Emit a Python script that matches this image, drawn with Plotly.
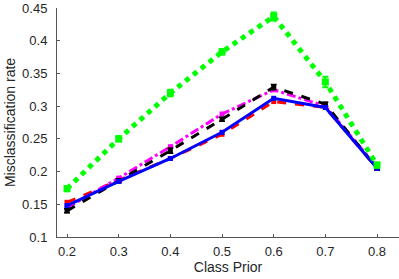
import plotly.graph_objects as go

x = [0.2, 0.3, 0.4, 0.5, 0.6, 0.7, 0.8]
red = [0.153, 0.186, 0.220, 0.257, 0.307, 0.298, 0.205]
magenta = [0.145, 0.190, 0.238, 0.288, 0.325, 0.300, 0.207]
black = [0.140, 0.186, 0.232, 0.280, 0.329, 0.303, 0.205]
blue = [0.148, 0.185, 0.220, 0.260, 0.312, 0.298, 0.205]
green = [0.174, 0.250, 0.320, 0.383, 0.437, 0.337, 0.210]
black_err = [0.003, 0.003, 0.004, 0.003, 0.004, 0.003, 0.003]
green_err = [0.004, 0.004, 0.005, 0.004, 0.006, 0.008, 0.004]
xticks = ["0.2", "0.3", "0.4", "0.5", "0.6", "0.7", "0.8"]
yvals = [0.1, 0.15, 0.2, 0.25, 0.3, 0.35, 0.4, 0.45]
yticks = ["0.1", "0.15", "0.2", "0.25", "0.3", "0.35", "0.4", "0.45"]

fig = go.Figure()
fig.add_trace(go.Scatter(x=x, y=red, mode="lines+markers",
                         line=dict(color="#ff0000", width=3, dash="dash"),
                         marker=dict(symbol="square", size=5, color="#ff0000")))
fig.add_trace(go.Scatter(x=x, y=magenta, mode="lines+markers",
                         line=dict(color="#ff00ff", width=3, dash="dashdot"),
                         marker=dict(symbol="square", size=5, color="#ff00ff")))
fig.add_trace(go.Scatter(x=x, y=black, mode="lines+markers",
                         line=dict(color="#000000", width=3, dash="dash"),
                         marker=dict(symbol="square", size=5, color="#000000"),
                         error_y=dict(type="data", array=black_err, color="#000000", thickness=1.5, width=3)))
fig.add_trace(go.Scatter(x=x, y=blue, mode="lines+markers",
                         line=dict(color="#0000ff", width=3),
                         marker=dict(symbol="square", size=5, color="#0000ff")))
fig.add_trace(go.Scatter(x=x, y=green, mode="lines+markers",
                         line=dict(color="#00ff00", width=5, dash="dot"),
                         marker=dict(symbol="square", size=7, color="#00ff00"),
                         error_y=dict(type="data", array=green_err, color="#00ff00", thickness=2, width=3)))

fig.update_layout(
    width=399, height=279,
    margin=dict(l=57, r=0, t=8, b=42, autoexpand=False),
    paper_bgcolor="white", plot_bgcolor="white",
    showlegend=False,
    font=dict(family="Liberation Sans, Arial, sans-serif", size=13, color="#262626"),
    xaxis=dict(range=[0.1806, 0.8425], tickvals=x, ticktext=xticks, automargin=False,
               showgrid=False, zeroline=False, showline=True, linecolor="#555555", linewidth=1,
               ticks="inside", ticklen=3, tickcolor="#555555", ticklabelstandoff=2,
               title=dict(text="Class Prior", font=dict(size=14), standoff=4)),
    yaxis=dict(range=[0.1, 0.45], tickvals=yvals, ticktext=yticks, automargin=False,
               showgrid=False, zeroline=False, showline=True, linecolor="#555555", linewidth=1,
               ticks="inside", ticklen=3, tickcolor="#555555", ticklabelstandoff=6,
               title=dict(text="Misclassification rate", font=dict(size=14), standoff=3)),
)
fig.write_html("out.html", config={"displayModeBar": False},
               post_script="document.body.style.margin='0';")
